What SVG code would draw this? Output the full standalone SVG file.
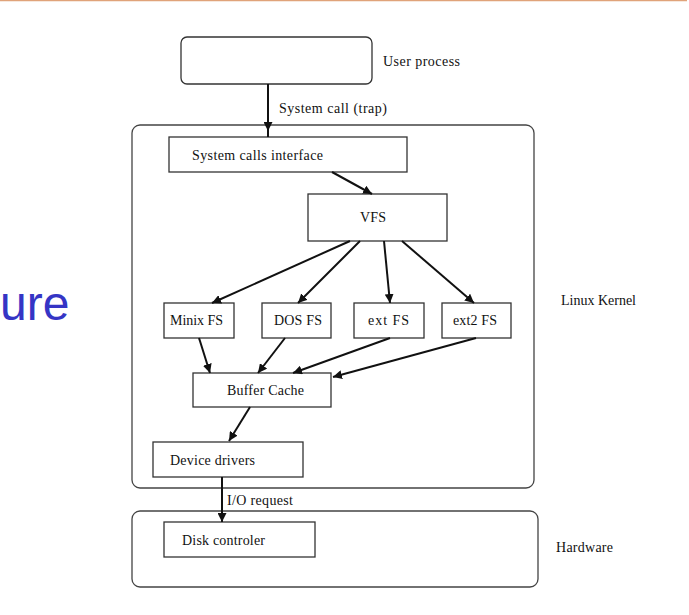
<svg xmlns="http://www.w3.org/2000/svg" width="689" height="615" viewBox="0 0 689 615">
<style>
.box{fill:#fff;stroke:#333;stroke-width:1.3}
.grp{fill:none;stroke:#444;stroke-width:1.3}
.t{font-family:'Liberation Serif','Times New Roman',serif;font-size:14px;fill:#111}
.c{stroke:#111;stroke-width:2;fill:none}
</style>
<defs>
<marker id="ah" viewBox="0 0 10 10" refX="10" refY="5" markerWidth="9" markerHeight="9" markerUnits="userSpaceOnUse" orient="auto">
<path d="M0,0 L10,5 L0,10 z" fill="#111"/>
</marker>
</defs>
<rect width="689" height="615" fill="#fff"/>
<line x1="0" y1="0.5" x2="687" y2="0.5" stroke="#E0A37A" stroke-width="1.5"/>
<text x="0" y="320" font-family="'Liberation Sans', Arial, sans-serif" font-size="48" fill="#3535C5">ure</text>

<g font-family="'Liberation Serif', 'Times New Roman', serif">
<g id="kernel"><rect class="grp" x="132" y="125" width="402" height="363" rx="8"/><text class="t" x="561" y="305" textLength="75" lengthAdjust="spacing">Linux Kernel</text></g>
<g id="hardware"><rect class="grp" x="132" y="511" width="406" height="76" rx="8"/><text class="t" x="556" y="552" textLength="57" lengthAdjust="spacing">Hardware</text></g>

<g id="user"><rect class="box" x="181" y="37" width="191" height="47" rx="6"/><text class="t" x="383" y="66" textLength="77" lengthAdjust="spacing">User process</text></g>
<g id="sci"><rect class="box" x="169" y="137" width="238" height="35"/><text class="t" x="192" y="160" textLength="131" lengthAdjust="spacing">System calls interface</text></g>
<g id="vfs"><rect class="box" x="308" y="194" width="139" height="47"/><text class="t" x="360" y="222" textLength="26" lengthAdjust="spacing">VFS</text></g>
<g id="minix"><rect class="box" x="164" y="303" width="70" height="35"/><text class="t" x="170" y="325" textLength="53" lengthAdjust="spacing">Minix FS</text></g>
<g id="dos"><rect class="box" x="262" y="303" width="69" height="35"/><text class="t" x="274" y="325" textLength="48" lengthAdjust="spacing">DOS FS</text></g>
<g id="ext"><rect class="box" x="354" y="303" width="70" height="35"/><text class="t" x="368" y="325" textLength="41" lengthAdjust="spacing">ext FS</text></g>
<g id="ext2"><rect class="box" x="442" y="303" width="69" height="35"/><text class="t" x="453" y="325" textLength="44" lengthAdjust="spacing">ext2 FS</text></g>
<g id="buffer"><rect class="box" x="193" y="373" width="138" height="34"/><text class="t" x="227" y="395" textLength="77" lengthAdjust="spacing">Buffer Cache</text></g>
<g id="drivers"><rect class="box" x="153" y="442" width="150" height="35"/><text class="t" x="170" y="465" textLength="85" lengthAdjust="spacing">Device drivers</text></g>
<g id="disk"><rect class="box" x="164" y="522" width="151" height="35"/><text class="t" x="182" y="545" textLength="83" lengthAdjust="spacing">Disk controler</text></g>

<g id="connectors">
<line class="c" x1="268" y1="84" x2="268" y2="131" marker-end="url(#ah)"/>
<line class="c" x1="268" y1="130" x2="268" y2="137"/>
<text class="t" x="279" y="113" textLength="108" lengthAdjust="spacing">System call (trap)</text>
<line class="c" x1="332" y1="172" x2="372" y2="194" marker-end="url(#ah)"/>
<line class="c" x1="350" y1="241" x2="212" y2="303" marker-end="url(#ah)"/>
<line class="c" x1="360" y1="241" x2="298" y2="303" marker-end="url(#ah)"/>
<line class="c" x1="384" y1="241" x2="390" y2="303" marker-end="url(#ah)"/>
<line class="c" x1="402" y1="241" x2="474" y2="303" marker-end="url(#ah)"/>
<line class="c" x1="199" y1="338" x2="210" y2="373" marker-end="url(#ah)"/>
<line class="c" x1="285" y1="338" x2="258" y2="373" marker-end="url(#ah)"/>
<line class="c" x1="390" y1="338" x2="293" y2="373" marker-end="url(#ah)"/>
<line class="c" x1="476" y1="338" x2="333" y2="377" marker-end="url(#ah)"/>
<line class="c" x1="250" y1="407" x2="229" y2="441" marker-end="url(#ah)"/>
<line class="c" x1="222" y1="477" x2="222" y2="522" marker-end="url(#ah)"/>
<text class="t" x="227" y="505" textLength="66" lengthAdjust="spacing">I/O request</text>
</g>
</g>
</svg>
